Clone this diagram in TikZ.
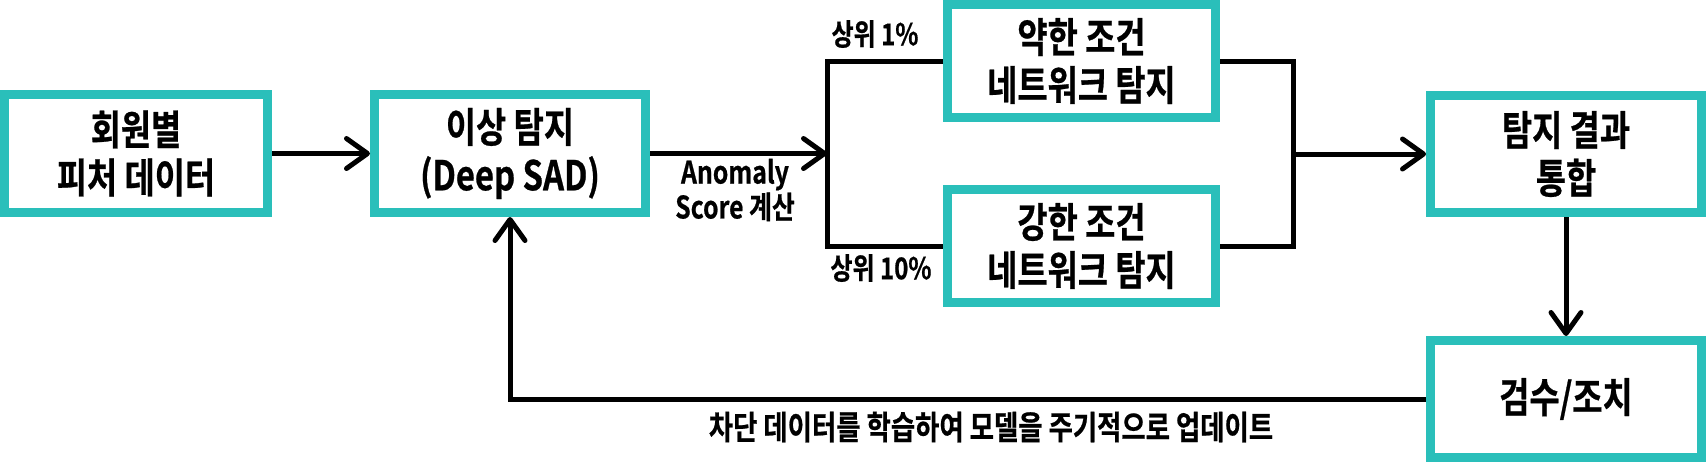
\documentclass[tikz,border=0pt]{standalone}
\usepackage{fontspec}
\setmainfont{Noto Sans CJK KR}[BoldFont={Noto Sans CJK KR Bold},FakeStretch=0.8,BoldFeatures={FakeBold=0.6}]
\usetikzlibrary{arrows.meta}
\definecolor{tealb}{RGB}{42,191,186}
\tikzset{
  box/.style={draw=tealb, line width=4.5pt, fill=white, inner sep=0pt, align=center,
    font=\bfseries\fontsize{20.5}{24}\selectfont},
  conn/.style={line width=2.5pt, line join=miter},
  arr/.style={conn, -{Straight Barb[length=10.5pt,width=15pt,round]}},
  lbl/.style={inner sep=0pt, align=center, font=\bfseries\fontsize{15}{16}\selectfont},
}
\begin{document}
\begin{tikzpicture}[x=0.5pt,y=-0.5pt]
\useasboundingbox (0,0) rectangle (1707,462);
\node[box, minimum width=131.5pt, minimum height=59pt] (b1) at (136,153.5) {회원별\\피처 데이터};
\node[box, minimum width=135.5pt, minimum height=59pt] (b2) at (510,153.5) {이상 탐지\\(Deep SAD)};
\node[box, minimum width=134pt, minimum height=56.5pt] (b3) at (1081.5,61) {약한 조건\\네트워크 탐지};
\node[box, minimum width=134pt, minimum height=56.5pt] (b4) at (1081.5,246) {강한 조건\\네트워크 탐지};
\node[box, minimum width=135.5pt, minimum height=58.5pt] (b5) at (1566,154) {탐지 결과\\통합};
\node[box, minimum width=135.5pt, minimum height=58.5pt] (b6) at (1566,399) {검수/조치};
\coordinate (jl) at (827,153.5);
\coordinate (jr) at (1293,154);
\draw[arr] (b1.east) -- (b2.west);
\draw[arr] (b2.east) -- (jl);
\draw[conn] (b3.west) -| (jl) |- (b4.west);
\draw[conn] (b3.east) -| (jr) |- (b4.east);
\draw[arr] (jr) -- (b5.west);
\draw[arr] (b5.south) -- (b6.north);
\draw[arr] (b6.west) -| (b2.south);
\node[lbl] (l1) at (875,34) {상위 1\%};
\node[lbl] (l2) at (881,268) {상위 10\%};
\node[lbl, font=\bfseries\fontsize{15.5}{15.5}\selectfont] (l3) at (735,190) {Anomaly\\Score 계산};
\node[lbl, font=\bfseries\fontsize{16.5}{18}\selectfont] (l4) at (991,427) {차단 데이터를 학습하여 모델을 주기적으로 업데이트};
\end{tikzpicture}
\end{document}
